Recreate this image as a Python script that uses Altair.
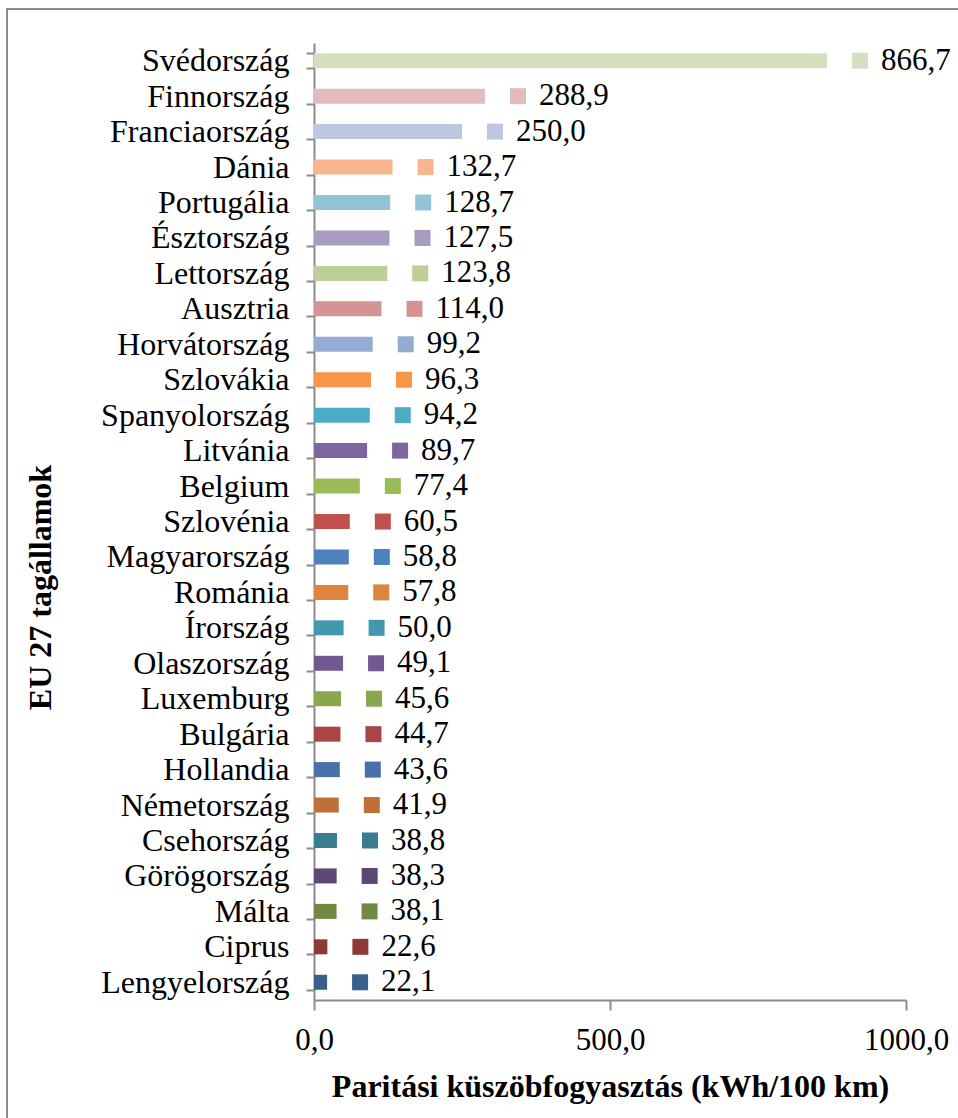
import altair as alt
import pandas as pd

countries = ["Svédország", "Finnország", "Franciaország", "Dánia", "Portugália", "Észtország",
             "Lettország", "Ausztria", "Horvátország", "Szlovákia", "Spanyolország", "Litvánia",
             "Belgium", "Szlovénia", "Magyarország", "Románia", "Írország", "Olaszország",
             "Luxemburg", "Bulgária", "Hollandia", "Németország", "Csehország", "Görögország",
             "Málta", "Ciprus", "Lengyelország"]
values = [866.7, 288.9, 250.0, 132.7, 128.7, 127.5, 123.8, 114.0, 99.2, 96.3, 94.2, 89.7,
          77.4, 60.5, 58.8, 57.8, 50.0, 49.1, 45.6, 44.7, 43.6, 41.9, 38.8, 38.3, 38.1, 22.6, 22.1]
colors = ["#D2E0C0", "#E3BBBB", "#BCC8E0", "#F9B58F", "#92C4D5", "#AA9BC1", "#BCCF97",
          "#D49494", "#95ABD2", "#F79646", "#4BACC6", "#8064A2", "#9BBB59", "#C0504D",
          "#4F81BD", "#DD843F", "#4298AF", "#72598F", "#8AA64F", "#A94645", "#4672A7",
          "#BF7038", "#377D8F", "#5D4775", "#718A41", "#8C3937", "#3A5F8C"]
x_ticks = [0, 500, 1000]

df = pd.DataFrame({"country": countries, "value": values, "color": colors})
df["label"] = [f"{v:.1f}".replace(".", ",") for v in values]

FONT = "Liberation Serif"
W, H = 592, 957

y_enc = alt.Y("country:N", sort=countries,
              scale=alt.Scale(paddingInner=0.57, paddingOuter=0.285),
              axis=alt.Axis(title="EU 27 tagállamok", tickBand="extent", tickSize=8,
                            tickColor="#8c8c8c", domainColor="#8c8c8c", domainWidth=2,
                            tickWidth=2, labelFont=FONT, labelFontSize=32, labelColor="black",
                            labelPadding=17, labelLimit=400, titleFont=FONT, titleFontSize=32,
                            titleFontWeight="bold", titleColor="black", titleAngle=270,
                            titleAlign="center", titleBaseline="middle",
                            titleX=-274, titleY=544))
x_enc = alt.X("value:Q", scale=alt.Scale(domain=[0, 1000], nice=False),
              axis=alt.Axis(title="Paritási küszöbfogyasztás (kWh/100 km)", values=x_ticks,
                            tickSize=10, tickColor="#8c8c8c", labelFlush=False,
                            domainColor="#8c8c8c", domainWidth=2, tickWidth=2, grid=False,
                            labelFont=FONT, labelFontSize=31, labelColor="black",
                            labelPadding=15, labelExpr="replace(format(datum.value, '.1f'), '.', ',')",
                            titleFont=FONT, titleFontSize=32, titleFontWeight="bold",
                            titleColor="black", titleBaseline="middle", titleY=86))

base = alt.Chart(df)
bars = base.mark_bar(size=15).encode(
    x=x_enc, y=y_enc, color=alt.Color("color:N", scale=None))
squares = base.mark_square(size=256, opacity=1, xOffset=33).encode(
    x="value:Q", y=alt.Y("country:N", sort=countries), color=alt.Color("color:N", scale=None))
texts = base.mark_text(align="left", baseline="middle", dx=54, font=FONT, fontSize=31,
                       color="black").encode(
    x="value:Q", y=alt.Y("country:N", sort=countries), text="label:N")
border = alt.Chart(pd.DataFrame({"a": [0]})).mark_rect(
    fill=None, stroke="#8c8c8c", strokeWidth=2).encode(
    x=alt.value(-307), x2=alt.value(660), y=alt.value(-34), y2=alt.value(1090))

chart = alt.layer(bars, squares, texts, border).properties(
    width=W, height=H,
    autosize=alt.AutoSizeParams(type="none"),
    padding={"left": 314, "top": 43, "right": 52, "bottom": 118},
    background="white",
).configure_view(stroke=None)

chart.save("out.html", embed_options={"renderer": "svg", "actions": False})
